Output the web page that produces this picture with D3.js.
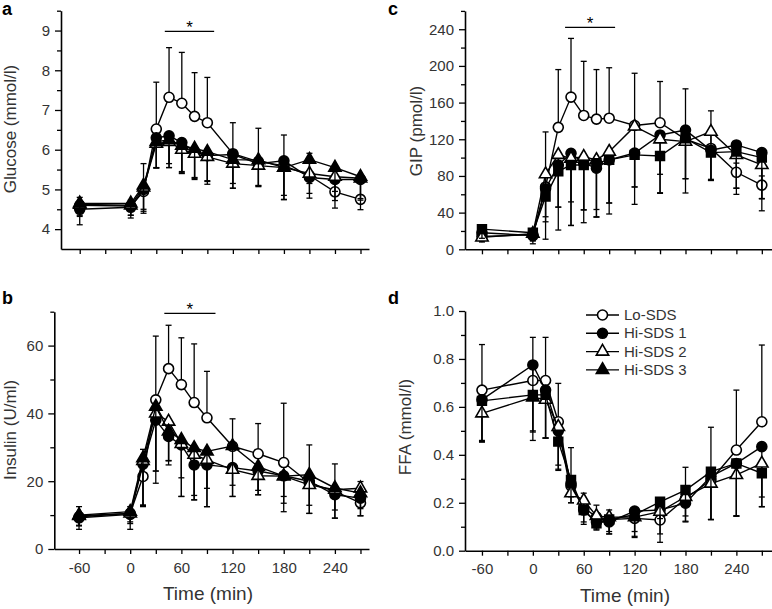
<!DOCTYPE html>
<html><head><meta charset="utf-8">
<script src="https://cdn.jsdelivr.net/npm/d3@7"></script>
<style>
html,body{margin:0;padding:0;background:#fff;}
svg{display:block;font-family:"Liberation Sans",Arial,Helvetica,sans-serif;}
</style></head><body>
<svg id="chart" width="772" height="609"></svg>
<script>
// ---------------- DATA ----------------
const time = [-60, 0, 15, 30, 45, 60, 75, 90, 120, 150, 180, 210, 240, 270];
const seriesNames = ["Lo-SDS", "Hi-SDS 1", "Hi-SDS 2", "Hi-SDS 3"];
const xMajorTicks = [-60, 0, 60, 120, 180, 240];
const xMinorTicks = [-30, 30, 90, 150, 210, 270];
// error bar direction per series: +1 upward, -1 downward
const errDirection = [1, -1, -1, -1];

// (a) Glucose (mmol/l)
const glucoseLo   = [4.60, 4.58, 4.95, 6.52, 7.32, 7.17, 6.84, 6.68, 5.90, 5.70, 5.60, 5.35, 4.94, 4.75];
const glucoseHi1  = [4.50, 4.55, 5.00, 6.30, 6.35, 6.18, 5.95, 5.85, 5.88, 5.65, 5.72, 5.30, 5.25, 5.25];
const glucoseHi2  = [4.62, 4.60, 5.05, 6.15, 6.20, 6.00, 5.90, 5.82, 5.65, 5.60, 5.55, 5.40, 5.32, 5.28];
const glucoseHi3  = [4.65, 4.65, 5.10, 6.20, 6.25, 6.10, 6.03, 5.95, 5.75, 5.74, 5.55, 5.75, 5.55, 5.32];
const glucoseLoErr  = [0.20, 0.15, 0.70, 1.18, 1.25, 1.28, 1.10, 1.14, 0.78, 0.84, 0.77, 0.56, 0.10, 0.10];
const glucoseHi1Err = [0.39, 0.27, 0.60, 0.76, 0.80, 0.76, 0.70, 0.72, 0.85, 0.58, 0.98, 0.52, 0.72, 0.76];
const glucoseHi2Err = [0.30, 0.25, 0.55, 0.60, 0.55, 0.55, 0.60, 0.60, 0.50, 0.50, 0.70, 0.50, 0.60, 0.55];
const glucoseHi3Err = [0.30, 0.30, 0.65, 0.66, 0.70, 0.70, 0.75, 0.75, 0.72, 0.65, 0.80, 0.60, 0.60, 0.55];

// (b) Insulin (U/ml)
const insulinLo  = [9.5, 10.5, 21.4, 44.0, 53.2, 48.5, 43.2, 38.7, 30.3, 28.1, 25.5, 19.5, 17.0, 13.6];
const insulinHi1 = [9.2, 10.2, 25.0, 38.0, 33.2, 30.7, 24.8, 24.8, 24.0, 23.0, 21.6, 20.0, 16.0, 15.0];
const insulinHi2 = [9.8, 10.5, 26.0, 40.0, 37.6, 31.0, 27.8, 26.3, 23.4, 21.6, 21.5, 18.9, 17.5, 17.9];
const insulinHi3 = [10.0, 11.0, 26.8, 42.0, 34.7, 32.2, 29.8, 28.8, 30.4, 24.3, 21.5, 21.9, 18.0, 16.5];
const insulinLoErr  = [3.0, 2.0, 8.0, 18.8, 12.8, 13.8, 17.3, 13.7, 8.1, 8.9, 17.5, 11.2, 8.1, 6.3];
const insulinHi1Err = [3.4, 4.4, 12.5, 18.6, 7.2, 15.2, 10.3, 12.3, 8.5, 7.0, 10.6, 9.5, 6.9, 5.2];
const insulinHi2Err = [3.0, 3.0, 13.0, 17.0, 11.5, 10.0, 12.0, 8.4, 4.6, 4.3, 6.0, 6.0, 6.0, 6.0];
const insulinHi3Err = [3.0, 3.0, 14.0, 19.0, 9.9, 16.7, 15.3, 16.3, 14.9, 8.3, 8.0, 11.4, 8.9, 6.7];

// (c) GIP (pmol/l)
const gipLo  = [14, 16, 68, 133, 166, 146, 142, 143, 135, 138, 120, 110, 84, 70];
const gipHi1 = [18, 15, 66, 92, 104.7, 94, 88.4, 97.5, 105, 124.7, 130, 108, 113.8, 105.4];
const gipHi2 = [13, 17, 82, 103, 99, 101, 97.5, 106.5, 134, 120, 117.4, 128.3, 102.9, 92];
const gipHi3 = [22, 18, 57.5, 85, 92, 92, 94, 97.5, 103, 101.8, 121, 105.4, 106.5, 100];
const gipLoErr  = [6, 6, 60, 63, 64, 59, 54, 55, 57, 45, 55, 41, 10, 10];
const gipHi1Err = [8, 9, 36, 46, 53, 51, 45, 47, 56, 63, 53, 33, 47, 50];
const gipHi2Err = [5, 8, 71, 82, 73, 72, 62, 56, 66, 59, 56, 52, 43, 50];
const gipHi3Err = [10, 8, 22, 39, 66, 49, 59, 59, 35, 20, 44, 30, 40, 45];

// (d) FFA (mmol/l)
const ffaLo  = [0.670, 0.710, 0.710, 0.538, 0.270, 0.180, 0.140, 0.130, 0.135, 0.128, 0.218, 0.295, 0.420, 0.538];
const ffaHi1 = [0.630, 0.775, 0.670, 0.500, 0.280, 0.170, 0.120, 0.120, 0.165, 0.170, 0.198, 0.310, 0.364, 0.434];
const ffaHi2 = [0.573, 0.640, 0.630, 0.517, 0.240, 0.210, 0.145, 0.140, 0.140, 0.163, 0.225, 0.280, 0.316, 0.364];
const ffaHi3 = [0.625, 0.650, 0.650, 0.455, 0.295, 0.170, 0.114, 0.130, 0.150, 0.204, 0.253, 0.330, 0.364, 0.323];
const ffaLoErr  = [0.19, 0.18, 0.18, 0.16, 0.16, 0.06, 0.05, 0.04, 0.04, 0.00, 0.13, 0.22, 0.25, 0.32];
const ffaHi1Err = [0.17, 0.28, 0.20, 0.16, 0.08, 0.06, 0.03, 0.05, 0.11, 0.10, 0.078, 0.18, 0.22, 0.21];
const ffaHi2Err = [0.12, 0.18, 0.16, 0.16, 0.04, 0.06, 0.05, 0.07, 0.08, 0.128, 0.08, 0.15, 0.17, 0.18];
const ffaHi3Err = [0.17, 0.15, 0.18, 0.12, 0.07, 0.05, 0.028, 0.05, 0.07, 0.07, 0.13, 0.20, 0.22, 0.14];

// ---------------- DRAWING ----------------
const svg = d3.select("#chart");
const TEXT = "#333";

function symbolPath(kind) {
  if (kind.startsWith("circle")) return d3.symbol().type(d3.symbolCircle).size(Math.PI * 25)();
  if (kind.startsWith("triangle")) return d3.symbol().type(d3.symbolTriangle).size(66)();
  return d3.symbol().type(d3.symbolSquare).size(78)();
}
function symbolFill(kind) { return kind.endsWith("Open") ? "#fff" : "#000"; }

function drawPanel(cfg) {
  const g = svg.append("g");
  const x = d3.scaleLinear().domain(cfg.xDomain).range(cfg.xRange);
  const y = d3.scaleLinear().domain(cfg.yDomain).range(cfg.yRange);
  const y0 = cfg.yRange[0];
  const x0 = cfg.xRange[0];

  // x axis
  const xAxis = d3.axisBottom(x).tickValues(xMajorTicks).tickSizeInner(5).tickSizeOuter(0)
    .tickFormat(cfg.xLabels ? (d => String(d)) : () => "");
  const gx = g.append("g").attr("transform", `translate(0,${y0})`).call(xAxis);
  const xAxisMinor = d3.axisBottom(x).tickValues(xMinorTicks).tickSize(5).tickFormat(() => "");
  const gxm = g.append("g").attr("transform", `translate(0,${y0})`).call(xAxisMinor);
  gxm.select(".domain").remove();
  [gx, gxm].forEach(a => {
    a.selectAll("line").attr("stroke", "#000").attr("stroke-width", 1.3);
    a.select(".domain").attr("stroke", "#000").attr("stroke-width", 1.6);
    a.selectAll("text").attr("fill", TEXT).style("font-size", "15px").attr("dy", "1.05em");
  });

  // y axis
  const yAxis = d3.axisLeft(y).tickValues(cfg.yMajor).tickSizeInner(6).tickSizeOuter(0)
    .tickFormat(cfg.yFormat).tickPadding(5);
  const gy = g.append("g").attr("transform", `translate(${x0},0)`).call(yAxis);
  const yAxisMinor = d3.axisLeft(y).tickValues(cfg.yMinor).tickSize(4).tickFormat(() => "");
  const gym = g.append("g").attr("transform", `translate(${x0},0)`).call(yAxisMinor);
  gym.select(".domain").remove();
  [gy, gym].forEach(a => {
    a.selectAll("line").attr("stroke", "#000").attr("stroke-width", 1.3);
    a.select(".domain").attr("stroke", "#000").attr("stroke-width", 1.6);
    a.selectAll("text").attr("fill", TEXT).style("font-size", "15px");
  });

  // axis titles
  g.append("text")
    .attr("transform", `translate(${cfg.yTitlePos[0]},${cfg.yTitlePos[1]}) rotate(-90)`)
    .attr("text-anchor", "middle").attr("fill", TEXT).style("font-size", "17px")
    .text(cfg.yTitle);
  if (cfg.xTitleX) {
    g.append("text")
      .attr("x", cfg.xTitleX).attr("y", y0 + 51)
      .attr("text-anchor", "middle").attr("fill", TEXT).style("font-size", "19px")
      .text("Time (min)");
  }

  // panel letter
  g.append("text").attr("x", cfg.letterPos[0]).attr("y", cfg.letterPos[1])
    .attr("fill", "#000").style("font-size", "18px").style("font-weight", "bold").text(cfg.letter);

  // significance
  if (cfg.sig) {
    g.append("line").attr("x1", x(cfg.sig.t0)).attr("x2", x(cfg.sig.t1))
      .attr("y1", y(cfg.sig.level)).attr("y2", y(cfg.sig.level))
      .attr("stroke", "#000").attr("stroke-width", 1.4);
    g.append("text").attr("x", x((cfg.sig.t0 + cfg.sig.t1) / 2)).attr("y", y(cfg.sig.level) + 1.5)
      .attr("text-anchor", "middle").attr("fill", "#000").style("font-size", "17px").text("*");
  }

  const line = d3.line().x((d, i) => x(time[i])).y(d => y(d));

  cfg.series.forEach((s, si) => {
    const sg = g.append("g");
    sg.append("path").attr("d", line(s.values)).attr("fill", "none")
      .attr("stroke", "#000").attr("stroke-width", 1.4);
    const dir = errDirection[si];
    s.values.forEach((v, i) => {
      const e = s.err[i];
      if (!e) return;
      const xe = x(time[i]);
      const ye = y(v + dir * e);
      sg.append("line").attr("x1", xe).attr("x2", xe).attr("y1", y(v)).attr("y2", ye)
        .attr("stroke", "#000").attr("stroke-width", 1.3);
      sg.append("line").attr("x1", xe - 3).attr("x2", xe + 3).attr("y1", ye).attr("y2", ye)
        .attr("stroke", "#000").attr("stroke-width", 1.3);
    });
    const kind = cfg.symbols[si];
    sg.selectAll("path.m").data(s.values).enter().append("path").attr("class", "m")
      .attr("d", symbolPath(kind))
      .attr("transform", (d, i) => `translate(${x(time[i])},${y(d)})`)
      .attr("fill", symbolFill(kind)).attr("stroke", "#000").attr("stroke-width", 1.6);
  });

  if (cfg.legend) {
    const L = cfg.legend;
    seriesNames.forEach((name, i) => {
      const ly = L.y + i * L.dy;
      svg.append("line").attr("x1", L.x).attr("x2", L.x + 33).attr("y1", ly).attr("y2", ly)
        .attr("stroke", "#000").attr("stroke-width", 1.4);
      const kind = L.symbols[i];
      svg.append("path").attr("d", symbolPath(kind)).attr("transform", `translate(${L.x + 16.5},${ly})`)
        .attr("fill", symbolFill(kind)).attr("stroke", "#000").attr("stroke-width", 1.6);
      svg.append("text").attr("x", L.x + 38).attr("y", ly + 5).attr("fill", TEXT)
        .style("font-size", "15px").text(name);
    });
  }
}

const symAB = ["circleOpen", "circleFilled", "triangleOpen", "triangleFilled"];
const symCD = ["circleOpen", "circleFilled", "triangleOpen", "squareFilled"];

drawPanel({
  letter: "a", letterPos: [2, 15],
  xDomain: [-82, 280], xRange: [61, 369],
  yDomain: [3.5, 9.5], yRange: [249, 10.7],
  yMajor: [4, 5, 6, 7, 8, 9], yMinor: [4.5, 5.5, 6.5, 7.5, 8.5, 9.5], yFormat: d3.format("d"),
  yTitle: "Glucose (mmol/l)", yTitlePos: [16, 129], xLabels: false,
  sig: { t0: 40, t1: 98, level: 8.98 },
  symbols: symAB,
  series: [
    { values: glucoseLo, err: glucoseLoErr },
    { values: glucoseHi1, err: glucoseHi1Err },
    { values: glucoseHi2, err: glucoseHi2Err },
    { values: glucoseHi3, err: glucoseHi3Err }
  ]
});

drawPanel({
  letter: "b", letterPos: [2, 304],
  xDomain: [-89, 280], xRange: [54.3, 369],
  yDomain: [0, 70], yRange: [549, 311.7],
  yMajor: [0, 20, 40, 60], yMinor: [10, 30, 50, 70], yFormat: d3.format("d"),
  yTitle: "Insulin (U/ml)", yTitlePos: [16, 430], xLabels: true, xTitleX: 208,
  sig: { t0: 40, t1: 100, level: 69.5 },
  symbols: symAB,
  series: [
    { values: insulinLo, err: insulinLoErr },
    { values: insulinHi1, err: insulinHi1Err },
    { values: insulinHi2, err: insulinHi2Err },
    { values: insulinHi3, err: insulinHi3Err }
  ]
});

drawPanel({
  letter: "c", letterPos: [388, 15],
  xDomain: [-80, 282], xRange: [465, 772],
  yDomain: [0, 260], yRange: [249.3, 10.9],
  yMajor: [0, 40, 80, 120, 160, 200, 240], yMinor: [20, 60, 100, 140, 180, 220, 260], yFormat: d3.format("d"),
  yTitle: "GIP (pmol/l)", yTitlePos: [422, 131], xLabels: false,
  sig: { t0: 38, t1: 97, level: 242 },
  symbols: symCD,
  series: [
    { values: gipLo, err: gipLoErr },
    { values: gipHi1, err: gipHi1Err },
    { values: gipHi2, err: gipHi2Err },
    { values: gipHi3, err: gipHi3Err }
  ]
});

drawPanel({
  letter: "d", letterPos: [388, 304],
  xDomain: [-80, 282], xRange: [465, 772],
  yDomain: [0, 1], yRange: [550.7, 311],
  yMajor: [0, 0.2, 0.4, 0.6, 0.8, 1.0], yMinor: [0.1, 0.3, 0.5, 0.7, 0.9], yFormat: d3.format(".1f"),
  yTitle: "FFA (mmol/l)", yTitlePos: [411, 427], xLabels: true, xTitleX: 625,
  symbols: symCD,
  series: [
    { values: ffaLo, err: ffaLoErr },
    { values: ffaHi1, err: ffaHi1Err },
    { values: ffaHi2, err: ffaHi2Err },
    { values: ffaHi3, err: ffaHi3Err }
  ],
  legend: { x: 586, y: 315, dy: 18.3, symbols: symAB }
});
</script>
</body></html>
